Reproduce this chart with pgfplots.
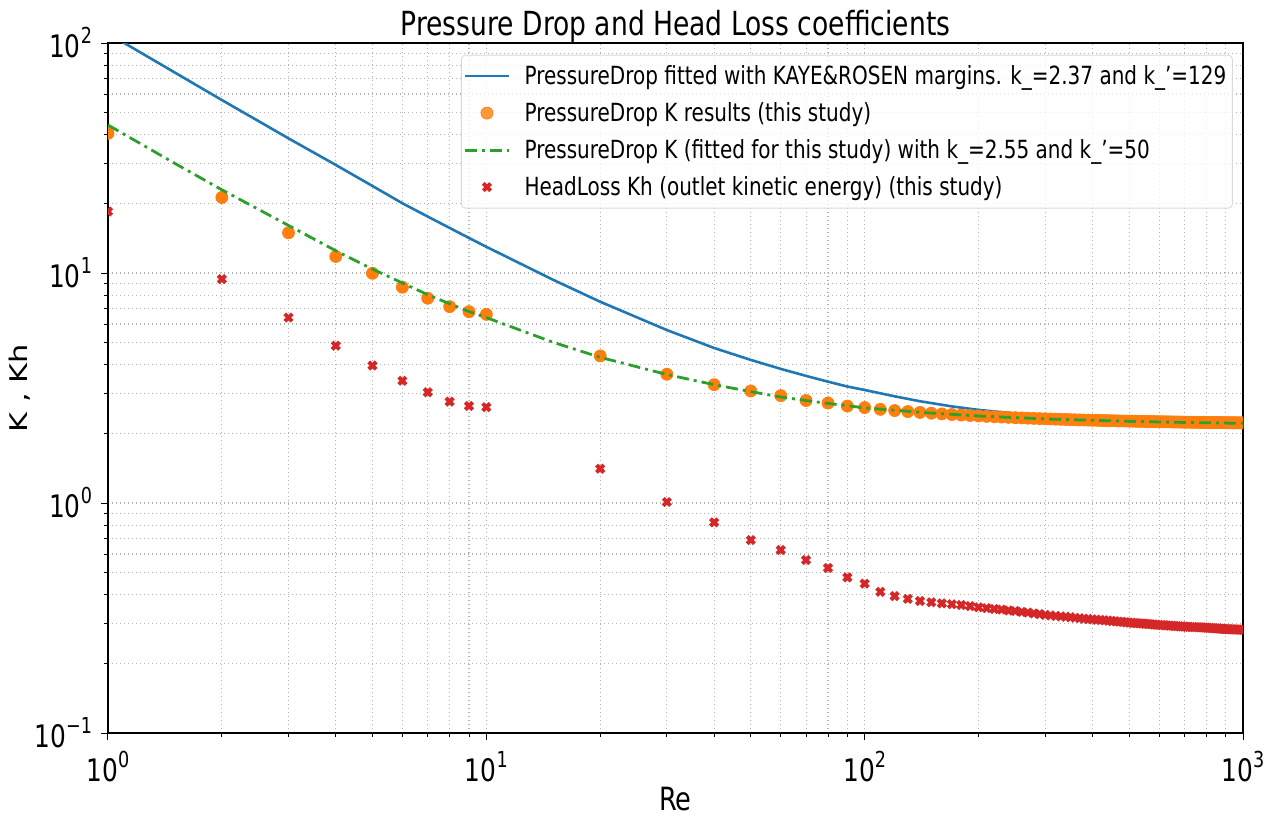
\documentclass[border=0pt]{standalone}
\usepackage{fontspec}
\setmainfont{DejaVu Sans}[FakeStretch=0.8]
\newfontfamily\plainfont{DejaVu Sans}
\usepackage{graphicx}
\usepackage{pgfplots}
\pgfplotsset{compat=1.18}
\definecolor{tabblue}{HTML}{1F77B4}
\definecolor{taborange}{HTML}{FF7F0E}
\definecolor{tabgreen}{HTML}{2CA02C}
\definecolor{tabred}{HTML}{D62728}
\newcommand{\tp}[1]{10\raisebox{0.45em}{\fontsize{11}{11}\selectfont #1}}
\pgfplotsset{myleg/.style={legend image code/.code={\draw[mark repeat=2,mark phase=2,##1] plot coordinates {(0cm,0cm) (0.39cm,0cm) (0.78cm,0cm)};}}}
\begin{document}
\begin{tikzpicture}
\begin{axis}[name=ax, xmode=log, ymode=log, scale only axis,
  width=567.5pt, height=345pt,
  xmin=1, xmax=1000, ymin=0.1, ymax=100,
  xtick={1,10,100,1000}, xticklabels={\tp{0},\tp{1},\tp{2},\tp{3}},
  ytick={0.1,1,10,100}, yticklabels={\tp{−1},\tp{0},\tp{1},\tp{2}},
  minor xtick={2,3,4,5,6,7,8,9,20,30,40,50,60,70,80,90,200,300,400,500,600,700,800,900},
  minor ytick={0.2,0.3,0.4,0.5,0.6,0.7,0.8,0.9,2,3,4,5,6,7,8,9,20,30,40,50,60,70,80,90},
  tick label style={font=\fontsize{15.5}{16}\selectfont},
  xticklabel style={yshift=-2pt},
  yticklabel style={xshift=-1pt},
  tick pos=left, tick align=outside,
  major tick length=3.5pt, minor tick length=2pt,
  every tick/.style={black, line width=0.5pt},
  grid=both,
  major grid style={black!30, dash pattern=on 0.6pt off 1.4pt, line width=0.55pt},
  minor grid style={black!30, dash pattern=on 0.6pt off 1.4pt, line width=0.55pt},
  axis line style={line width=0.6pt},
  every axis title shift=0pt,
  title={Pressure Drop and Head Loss coefficients},
  title style={font=\fontsize{16.6}{18}\selectfont, at={(axis description cs:0.5,1)}, anchor=base, yshift=4pt},
  xlabel={Re},
  ylabel={\scalebox{1}[0.8]{\plainfont\fontsize{15.2}{18}\selectfont K , Kh}},
  xlabel style={font=\fontsize{16}{18}\selectfont, at={(axis description cs:0.5,0)}, anchor=base, yshift=-38.5pt},
  ylabel style={at={(axis description cs:-0.0775,0.5)}, anchor=center},
  clip marker paths=true,
  legend cell align=left,
  legend style={at={(0.991,0.983)}, anchor=north east, draw=black!15, fill=white, fill opacity=0.8, text opacity=1, rounded corners=2pt, font=\fontsize{12.5}{14}\selectfont, row sep=3.5pt, inner xsep=1pt, inner ysep=3pt, /tikz/every odd column/.append style={column sep=5pt}},
]
\addplot[tabblue, line width=1.3pt, myleg] coordinates {
(1,110) (1.5,74.5) (2,56.5) (3,38.5) (4,29.5) (5,23.9) (6,20.1) (7,17.6) (8,15.7) (9,14.2) (10,13.0)
(15,9.35) (20,7.5) (30,5.65) (40,4.72) (50,4.19) (60,3.83) (70,3.57) (80,3.37) (90,3.21) (100,3.10)
(120,2.91) (140,2.77) (170,2.63) (200,2.54) (250,2.45) (300,2.39) (400,2.32) (500,2.28) (700,2.235) (1000,2.19)
};
\addlegendentry{PressureDrop fitted with KAYE\&ROSEN margins. k\_=2.37 and k\_'=129}
\addplot[only marks, mark=*, mark size=3pt, color=taborange, mark options={draw=taborange, fill=taborange}, myleg] coordinates {
(1,40.5) (2,21.3) (3,14.96) (4,11.8) (5,9.97) (6,8.67) (7,7.77) (8,7.14) (9,6.79) (10,6.61)
(20,4.36) (30,3.63) (40,3.27) (50,3.07) (60,2.93) (70,2.79) (80,2.72) (90,2.64) (100,2.60)
(110,2.554) (120,2.523) (130,2.498) (140,2.476) (150,2.457) (160,2.44) (170,2.425) (180,2.412) (190,2.401) (200,2.39)
(210,2.380) (220,2.372) (230,2.364) (240,2.357) (250,2.35) (260,2.344) (270,2.338) (280,2.333) (290,2.328) (300,2.323)
(310,2.319) (320,2.315) (330,2.311) (340,2.308) (350,2.304) (360,2.301) (370,2.298) (380,2.295) (390,2.293) (400,2.29)
(410,2.288) (420,2.285) (430,2.283) (440,2.281) (450,2.279) (460,2.277) (470,2.275) (480,2.273) (490,2.272) (500,2.27)
(510,2.268) (520,2.267) (530,2.265) (540,2.264) (550,2.263) (560,2.261) (570,2.26) (580,2.259) (590,2.258) (600,2.257)
(610,2.256) (620,2.255) (630,2.253) (640,2.253) (650,2.252) (660,2.251) (670,2.25) (680,2.249) (690,2.248) (700,2.247)
(710,2.246) (720,2.246) (730,2.245) (740,2.244) (750,2.243) (760,2.243) (770,2.242) (780,2.241) (790,2.241) (800,2.24)
(810,2.239) (820,2.239) (830,2.238) (840,2.238) (850,2.237) (860,2.237) (870,2.236) (880,2.235) (890,2.235) (900,2.234)
(910,2.234) (920,2.233) (930,2.233) (940,2.233) (950,2.232) (960,2.232) (970,2.231) (980,2.231) (990,2.23) (1000,2.23)
};
\addlegendentry{PressureDrop K results (this study)}
\addplot[tabgreen, line width=1.4pt, dash pattern=on 6pt off 2.5pt on 1.5pt off 2.5pt, myleg] coordinates {
(1,44.0) (1.5,30.0) (2,23.0) (3,16.1) (4,12.5) (5,10.4) (6,9.05) (7,8.05) (8,7.35) (9,6.8) (10,6.4)
(15,5.0) (20,4.3) (30,3.62) (40,3.27) (50,3.05) (60,2.89) (70,2.79) (80,2.71) (90,2.65) (100,2.59)
(150,2.46) (200,2.39) (300,2.32) (500,2.265) (700,2.24) (1000,2.22)
};
\addlegendentry{PressureDrop K (fitted for this study) with k\_=2.55 and k\_'=50}
\addplot[only marks, mark=x, mark size=2.6pt, color=tabred, mark options={line width=2pt}, myleg] coordinates {
(1,18.5) (2,9.40) (3,6.40) (4,4.83) (5,3.96) (6,3.40) (7,3.03) (8,2.76) (9,2.64) (10,2.61)
(20,1.41) (30,1.01) (40,0.824) (50,0.69) (60,0.625) (70,0.565) (80,0.522) (90,0.475) (100,0.446)
(110,0.411) (120,0.394) (130,0.383) (140,0.375) (150,0.370) (160,0.366) (170,0.363) (180,0.360) (190,0.356) (200,0.352)
(210,0.349) (220,0.346) (230,0.344) (240,0.341) (250,0.339) (260,0.336) (270,0.334) (280,0.331) (290,0.329) (300,0.326)
(310,0.3245) (320,0.323) (330,0.3215) (340,0.320) (350,0.3185) (360,0.317) (370,0.3155) (380,0.314) (390,0.313) (400,0.312)
(410,0.311) (420,0.310) (430,0.309) (440,0.308) (450,0.307) (460,0.306) (470,0.305) (480,0.304) (490,0.303) (500,0.302)
(510,0.3013) (520,0.3006) (530,0.2999) (540,0.2992) (550,0.2985) (560,0.2978) (570,0.2971) (580,0.2964) (590,0.2957) (600,0.295)
(610,0.2945) (620,0.294) (630,0.2935) (640,0.293) (650,0.2925) (660,0.292) (670,0.2915) (680,0.291) (690,0.2905) (700,0.290)
(710,0.2897) (720,0.2894) (730,0.2891) (740,0.2888) (750,0.2885) (760,0.2882) (770,0.2879) (780,0.2876) (790,0.2873) (800,0.287)
(810,0.2866) (820,0.2862) (830,0.2858) (840,0.2854) (850,0.285) (860,0.2846) (870,0.2842) (880,0.2838) (890,0.2834) (900,0.283)
(910,0.2828) (920,0.2826) (930,0.2824) (940,0.2822) (950,0.282) (960,0.2818) (970,0.2816) (980,0.2814) (990,0.2812) (1000,0.281)
};
\addlegendentry{HeadLoss Kh (outlet kinetic energy) (this study)}
\end{axis}
\pgfresetboundingbox
\path[use as bounding box] ([xshift=-54pt,yshift=-41.5pt]ax.south west) rectangle ([xshift=12pt,yshift=21.5pt]ax.north east);
\end{tikzpicture}
\end{document}
